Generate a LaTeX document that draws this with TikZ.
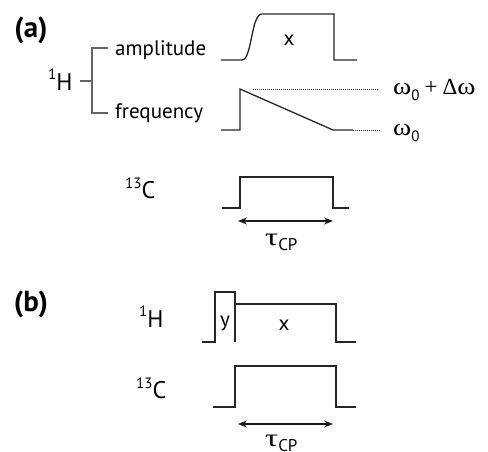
\documentclass[tikz,border=0pt]{standalone}
\usepackage{fontspec}
\setmainfont{PT Sans}
\newfontfamily\grk{Liberation Serif}
\usetikzlibrary{arrows.meta}
\newcommand\upnum[2]{\raisebox{#1}{\fontsize{15}{15}\selectfont #2}}
\newcommand\lownum[1]{\raisebox{-6pt}{\fontsize{15}{15}\selectfont #1}}
\newcommand\omg{{\grk\fontsize{24}{24}\selectfont\scalebox{1.15}[1]{ω}}}
\newcommand\tcp{{\grk\fontsize{25}{25}\selectfont\scalebox{1.3}[1]{τ}}\raisebox{-5pt}{\fontsize{17}{17}\selectfont CP}}
\begin{document}
\begin{tikzpicture}[x=1pt,y=-1pt,
  lbl/.style={inner sep=0pt,anchor=base west,font=\fontsize{21}{25}\selectfont},
  nuc/.style={inner sep=0pt,anchor=base west,font=\fontsize{24}{28}\selectfont},
  mid/.style={inner sep=0pt,anchor=center,font=\fontsize{21}{25}\selectfont},
  panel/.style={inner sep=0pt,anchor=center,font=\fontsize{29}{30}\selectfont\bfseries},
  pulse/.style={line width=1.3pt,color=black!85,line join=miter},
  brk/.style={line width=1.3pt,color=black!60},
  dots/.style={line width=0.8pt,dash pattern=on 1pt off 1pt,color=black!80},
  span/.style={line width=1.1pt,color=black!90,{Stealth[length=9pt,width=7pt]}-{Stealth[length=9pt,width=7pt]}}]
\useasboundingbox (0,0) rectangle (488,451);

% ---------- panel (a)
\node[panel] (pa) at (31,30) {(a)};
\node[nuc] (Ha) at (48,90) {\upnum{11pt}{1}H};
\node[lbl] (amp) at (115,55) {amplitude};
\node[lbl] (freq) at (115,118) {frequency};
\draw[brk] (80,81) -- (92,81);
\draw[brk] (108,48) -- (92,48) -- (92,113) -- (108,113);

% amplitude shaped pulse
\draw[pulse] (221,60) -- (242,60) .. controls (252,60) and (251,14) .. (262,14)
  -- (334,14) -- (334,60) -- (357,60);
\node[mid] (xa) at (289,40) {x};

% frequency ramp
\draw[pulse] (221,130) -- (240,130) -- (240,89) -- (333,130) -- (353,130);
\coordinate (f1) at (253,89);
\coordinate (f2) at (378,89);
\coordinate (f3) at (353,130);
\coordinate (f4) at (380,130);
\draw[dots] (f1) -- (f2);
\draw[dots] (f3) -- (f4);
\node[inner sep=0pt,anchor=base west] (wtop) at (393,94)
  {\omg\lownum{0}\hspace{5pt}{\grk\fontsize{23}{24}\selectfont +\hspace{5pt}Δ}\omg};
\node[inner sep=0pt,anchor=base west] (wbot) at (393,135) {\omg\lownum{0}};

% 13C (a)
\node[nuc] (Ca) at (125,198) {\upnum{10pt}{13}C};
\draw[pulse] (222,208) -- (240,208) -- (240,177) -- (333,177) -- (333,208) -- (349,208);
\coordinate (sa1) at (238,221);
\coordinate (sa2) at (333,221);
\draw[span] (sa1) -- (sa2);
\node[inner sep=0pt,anchor=base west] (ta) at (265,245) {\tcp};

% ---------- panel (b)
\node[panel] (pb) at (31,304) {(b)};
\node[nuc] (Hb) at (139,327) {\upnum{11pt}{1}H};
\draw[pulse] (202,342) -- (215,342) -- (215,292) -- (235,292) -- (235,342);
\draw[pulse] (235,304) -- (336,304) -- (336,342) -- (356,342);
\node[mid] (yb) at (225,323) {y};
\node[mid] (xb) at (284,325) {x};

\node[nuc] (Cb) at (136,398) {\upnum{10pt}{13}C};
\draw[pulse] (213,407) -- (235,407) -- (235,366) -- (336,366) -- (336,407) -- (356,407);
\coordinate (sb1) at (238,424);
\coordinate (sb2) at (333,424);
\draw[span] (sb1) -- (sb2);
\node[inner sep=0pt,anchor=base west] (tb) at (265,446) {\tcp};
\end{tikzpicture}
\end{document}
